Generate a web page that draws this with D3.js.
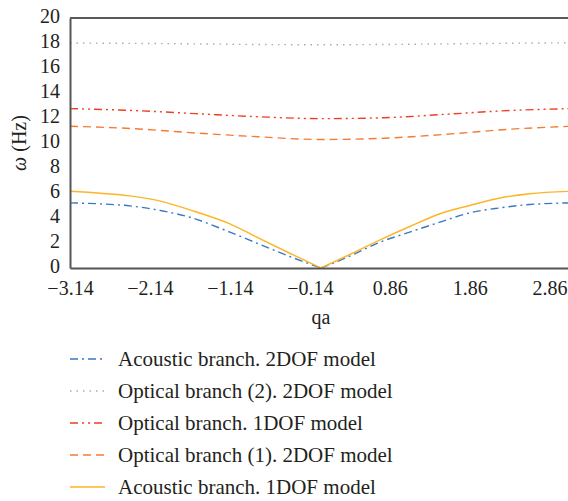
<!DOCTYPE html>
<html>
<head>
<meta charset="utf-8">
<script src="https://cdn.jsdelivr.net/npm/d3@7"></script>
<style>
  body { margin: 0; background: #fff; }
  svg text { font-family: "Liberation Serif", "DejaVu Serif", serif; fill: #231f20; }
</style>
</head>
<body>
<svg id="chart" width="568" height="501"></svg>
<script>
// Data
var qaSmooth = [-3.14, -2.35, -1.57, -0.79, 0, 0.79, 1.57, 2.36, 3.14];
var qaAcoustic = [-3.14, -2.76, -2.39, -2.01, -1.64, -1.14, -0.76, -0.39, 0,
                  0.36, 0.74, 1.11, 1.49, 1.86, 2.24, 2.61, 3.14];

var acoustic2dof = [5.21, 5.13, 4.97, 4.6, 4.06, 2.87, 1.88, 0.92, 0,
                    0.95, 2.07, 2.87, 3.67, 4.41, 4.81, 5.08, 5.21];
var acoustic1dof = [6.14, 5.98, 5.77, 5.35, 4.65, 3.53, 2.33, 1.18, 0,
                    1.08, 2.25, 3.32, 4.34, 5.0, 5.6, 5.94, 6.14];
var optical2_2dof = [18.0, 17.97, 17.93, 17.88, 17.86, 17.88, 17.93, 17.98, 18.02];
var optical1dof = [12.75, 12.6, 12.35, 12.1, 11.95, 12.02, 12.3, 12.6, 12.75];
var optical1_2dof = [11.34, 11.15, 10.8, 10.5, 10.28, 10.38, 10.7, 11.1, 11.34];

var xTicks = [-3.14, -2.14, -1.14, -0.14, 0.86, 1.86, 2.86];
var yTicks = [0, 2, 4, 6, 8, 10, 12, 14, 16, 18, 20];

var series = [
  { name: "Acoustic branch. 2DOF model", qa: qaAcoustic, values: acoustic2dof, color: "#3a78c4", dash: "8,4,2,4", kink: true },
  { name: "Optical branch (2). 2DOF model", qa: qaSmooth, values: optical2_2dof, color: "#aaaaaa", dash: "1.5,5", kink: false },
  { name: "Optical branch. 1DOF model", qa: qaSmooth, values: optical1dof, color: "#ee3f22", dash: "8,4,2,4,2,4", kink: false },
  { name: "Optical branch (1). 2DOF model", qa: qaSmooth, values: optical1_2dof, color: "#f47c36", dash: "8,5", kink: false },
  { name: "Acoustic branch. 1DOF model", qa: qaAcoustic, values: acoustic1dof, color: "#fdb526", dash: null, kink: true }
];

var svg = d3.select("#chart");
var margin = { left: 70, right: 0, top: 18, bottom: 233 };
var height = 501 - margin.top - margin.bottom;

var xScale = d3.scaleLinear().domain([-3.14, 3.14]).range([margin.left, margin.left + 502]);
var yScale = d3.scaleLinear().domain([0, 20]).range([margin.top + height, margin.top]);

// frame: top line
svg.append("line")
   .attr("x1", margin.left).attr("x2", 568)
   .attr("y1", yScale(20)).attr("y2", yScale(20))
   .style("stroke", "#222").style("stroke-width", 1.5);

// Lines
var line = d3.line()
             .x(function(d) { return xScale(d[0]); })
             .y(function(d) { return yScale(d[1]); })
             .curve(d3.curveMonotoneX);

var plot = svg.append("g");
series.forEach(function(s) {
  var pts = s.qa.map(function(q, i) { return [q, s.values[i]]; });
  var parts = [pts];
  if (s.kink) { // split at the V so the corner stays sharp
    parts = [pts.filter(function(p) { return p[0] <= 0; }),
             pts.filter(function(p) { return p[0] >= 0; })];
  }
  parts.forEach(function(p) {
    plot.append("path")
        .attr("d", line(p))
        .style("fill", "none")
        .style("stroke", s.color)
        .style("stroke-width", 1.4)
        .style("stroke-dasharray", s.dash);
  });
});

// Axes
var xAxis = d3.axisBottom(xScale).tickValues(xTicks).tickSize(0).tickPadding(13)
              .tickFormat(function(d) { return d3.format(".2f")(d).replace("-", "\u2212"); });
var yAxis = d3.axisLeft(yScale).tickValues(yTicks).tickSize(0).tickPadding(10);

var gx = svg.append("g").attr("transform", "translate(0," + yScale(0) + ")").call(xAxis);
var gy = svg.append("g").attr("transform", "translate(" + margin.left + ",0)").call(yAxis);
[gx, gy].forEach(function(g) {
  g.select(".domain").style("stroke", "#555").style("stroke-width", 2);
  g.selectAll("text").style("font-size", "20px").style("font-family", "Liberation Serif").style("fill", "#231f20");
});
gy.selectAll("text").attr("dy", "0.2em");

// Axis titles
svg.append("text")
   .attr("x", xScale(0))
   .attr("y", 324)
   .attr("text-anchor", "middle")
   .style("font-size", "20px")
   .text("qa");
svg.append("text")
   .attr("transform", "translate(26," + yScale(10.0) + ") rotate(-90)")
   .attr("text-anchor", "middle")
   .style("font-size", "20px")
   .html('<tspan font-style="italic">\u03c9</tspan> (Hz)');

// Legend
var legend = svg.selectAll(".legendItem")
                .data(series)
                .enter()
                .append("g")
                .attr("class", "legendItem")
                .attr("transform", function(d, i) { return "translate(70," + (359 + i * 32) + ")"; });
legend.append("line")
      .attr("x1", 0).attr("x2", 35)
      .attr("y1", 0).attr("y2", 0)
      .style("stroke", function(d) { return d.color; })
      .style("stroke-width", 1.6)
      .style("stroke-dasharray", function(d) { return d.dash; });
legend.append("text")
      .attr("x", 48)
      .attr("dy", "0.33em")
      .style("font-size", "21px")
      .text(function(d) { return d.name; });
</script>
</body>
</html>
